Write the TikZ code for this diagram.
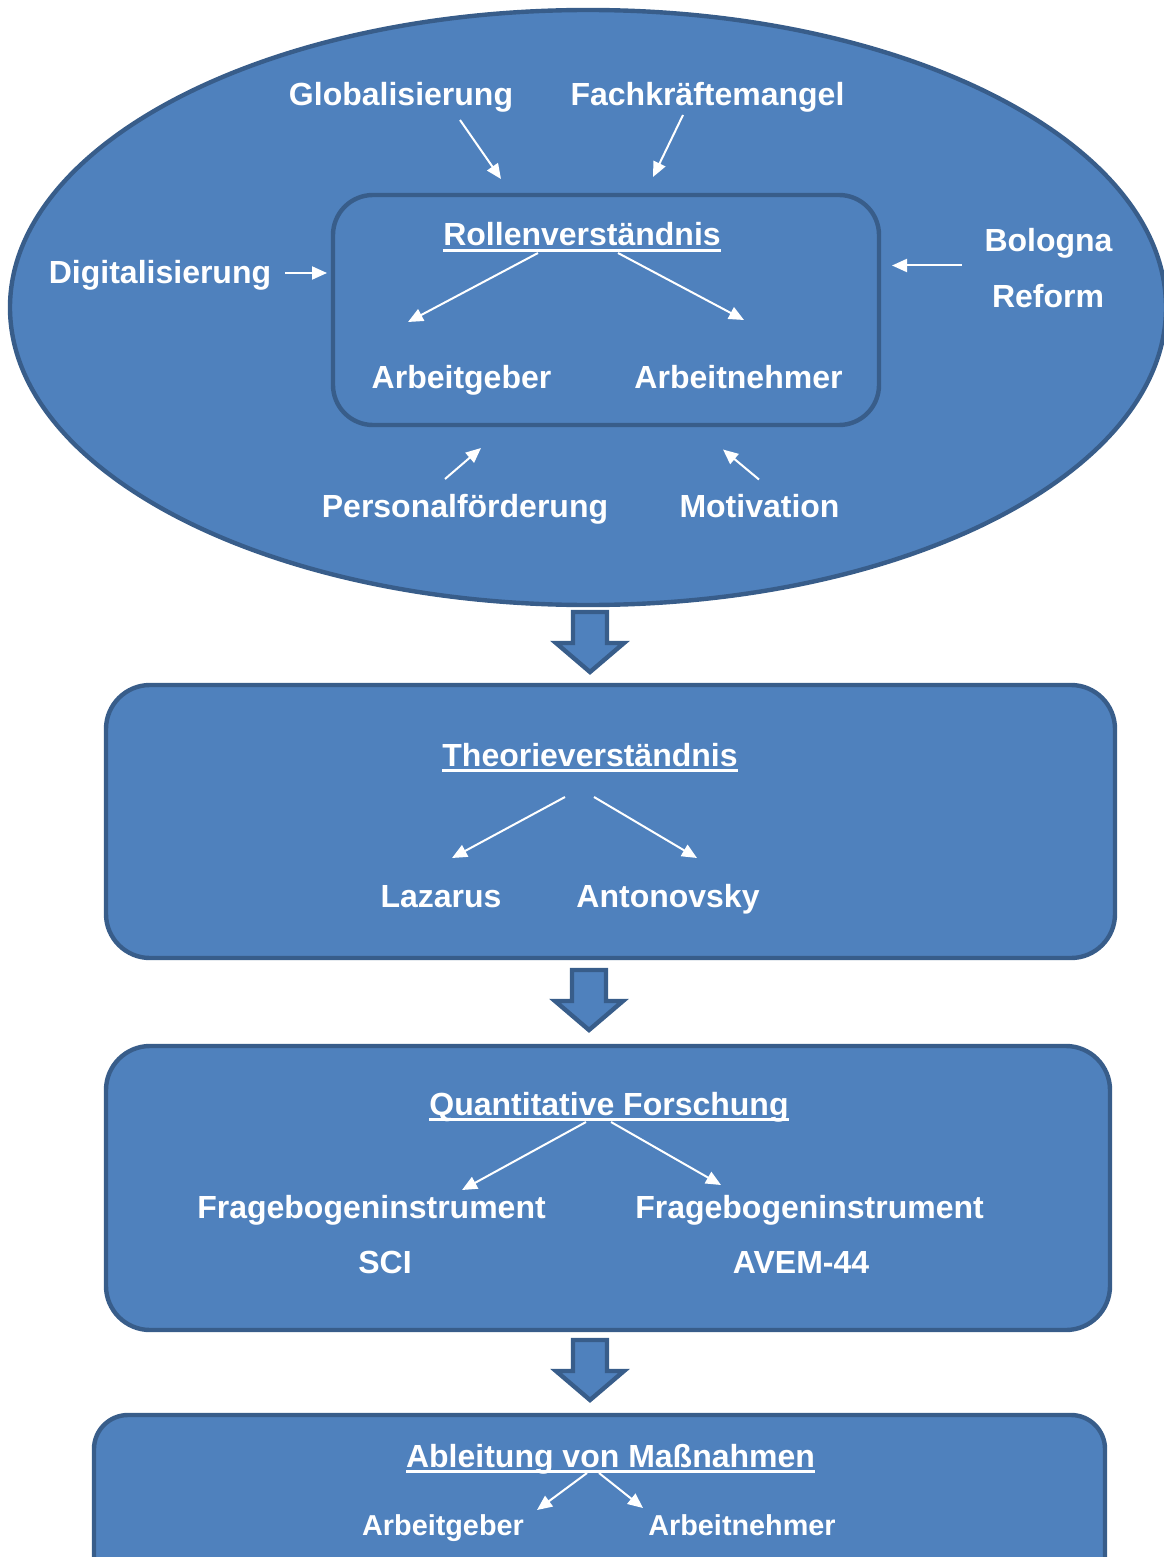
\documentclass[tikz,border=0pt]{standalone}
\usepackage{fontspec}
\setmainfont{Liberation Sans}
\usepackage{tikz}
\usetikzlibrary{arrows.meta,positioning,shapes.geometric}
\definecolor{Fill}{HTML}{4F81BD}
\definecolor{Edge}{HTML}{385D8A}
\newsavebox\ulbox
\newcommand\ulin[1]{\sbox\ulbox{#1}\rlap{\rule[-3pt]{\wd\ulbox}{1.4pt}}\usebox\ulbox}
\tikzset{
  blob/.style={ellipse,draw=Edge,fill=Fill,line width=2.2pt,inner sep=0pt},
  innerbox/.style={rectangle,draw=Edge,fill=Fill,line width=2.2pt,rounded corners=20pt},
  panel/.style={rectangle,draw=Edge,fill=Fill,line width=2.2pt,rounded corners=22pt},
  lbl/.style={text=white,font=\fontsize{16}{19}\selectfont\bfseries,inner sep=0pt,anchor=base},
  itemsmall/.style={lbl,font=\fontsize{14.4}{17}\selectfont\bfseries},
  flow/.style={-{Triangle[length=7.5pt,width=6.5pt]},draw=white,line width=1pt},
  downarrow/.pic={\draw[draw=Edge,fill=Fill,line width=2.2pt,line join=miter]
    (-17,0) -- (17,0) -- (17,31) -- (34,31) -- (0,60) -- (-34,31) -- (-17,31) -- cycle;}
}
\begin{document}
\begin{tikzpicture}[x=0.5pt,y=-0.5pt]
  \useasboundingbox (0,0) rectangle (1163,1557);
  % Umfeld
  \node[blob,minimum width=578pt,minimum height=297.5pt] (umfeld) at (588,307.5) {};
  \node[innerbox,minimum width=273pt,minimum height=115pt] (rolle) at (606,310) {};
  \node[lbl] (glob) at (401,106) {Globalisierung};
  \node[lbl] (fach) at (707.5,106) {Fachkräftemangel};
  \node[lbl] (digi) at (160,284) {Digitalisierung};
  \node[lbl] (bologna) at (1048.5,251) {Bologna};
  \node[lbl] (reform) at (1048,307) {Reform};
  \node[lbl] (rollen) at (582,246) {\ulin{Rollenverständnis}};
  \node[lbl] (ag) at (461.5,388) {Arbeitgeber};
  \node[lbl] (an) at (738.5,388) {Arbeitnehmer};
  \node[lbl] (pers) at (465,517) {Personalförderung};
  \node[lbl] (moti) at (759.5,517) {Motivation};
  \coordinate (glob-a) at (460,120);   \coordinate (glob-b) at (501,179);
  \coordinate (fach-a) at (683,115);   \coordinate (fach-b) at (653,177);
  \coordinate (digi-a) at (285,273);   \coordinate (digi-b) at (327,273);
  \coordinate (bol-a) at (962,265.5);  \coordinate (bol-b) at (892,265.5);
  \coordinate (rol-a) at (538,253);    \coordinate (rol-b) at (408,322);
  \coordinate (rol-c) at (618,253);    \coordinate (rol-d) at (744,320);
  \coordinate (pers-a) at (445,479);   \coordinate (pers-b) at (481,448);
  \coordinate (moti-a) at (759,479.5); \coordinate (moti-b) at (723,449.5);
  \draw[flow] (glob-a) -- (glob-b);
  \draw[flow] (fach-a) -- (fach-b);
  \draw[flow] (digi-a) -- (digi-b);
  \draw[flow] (bol-a) -- (bol-b);
  \draw[flow] (rol-a) -- (rol-b);
  \draw[flow] (rol-c) -- (rol-d);
  \draw[flow] (pers-a) -- (pers-b);
  \draw[flow] (moti-a) -- (moti-b);
  \pic at (590,612) {downarrow};
  % Theorie
  \node[panel,minimum width=504.5pt,minimum height=136.5pt] (theorie) at (610.5,821.5) {};
  \node[lbl] (theo) at (590,766) {\ulin{Theorieverständnis}};
  \node[lbl] (laz) at (441,907) {Lazarus};
  \node[lbl] (anto) at (668,907) {Antonovsky};
  \coordinate (theo-a) at (565,797); \coordinate (theo-b) at (452,858);
  \coordinate (theo-c) at (594,797); \coordinate (theo-d) at (697,858);
  \draw[flow] (theo-a) -- (theo-b);
  \draw[flow] (theo-c) -- (theo-d);
  \pic at (589,970) {downarrow};
  % Forschung
  \node[panel,minimum width=502pt,minimum height=142pt] (forschung) at (608,1188) {};
  \node[lbl] (quant) at (609,1115) {\ulin{Quantitative Forschung}};
  \node[lbl] (frage1) at (371.5,1218) {Fragebogeninstrument};
  \node[lbl] (sci) at (385,1273) {SCI};
  \node[lbl] (frage2) at (809.5,1218) {Fragebogeninstrument};
  \node[lbl] (avem) at (801,1273) {AVEM-44};
  \coordinate (qu-a) at (586,1122); \coordinate (qu-b) at (462,1190);
  \coordinate (qu-c) at (611,1122); \coordinate (qu-d) at (721,1185);
  \draw[flow] (qu-a) -- (qu-b);
  \draw[flow] (qu-c) -- (qu-d);
  \pic at (590,1340) {downarrow};
  % Massnahmen
  \node[panel,rounded corners=17pt,minimum width=505.5pt,minimum height=87.5pt] (massnahmen) at (599.5,1502.5) {};
  \node[lbl] (ableit) at (610.5,1467) {\ulin{Ableitung von Maßnahmen}};
  \node[itemsmall] (ag2) at (443,1535) {Arbeitgeber};
  \node[itemsmall] (an2) at (742,1535) {Arbeitnehmer};
  \coordinate (ab-a) at (587,1473); \coordinate (ab-b) at (537,1510);
  \coordinate (ab-c) at (599,1473); \coordinate (ab-d) at (643,1508);
  \draw[flow] (ab-a) -- (ab-b);
  \draw[flow] (ab-c) -- (ab-d);
\end{tikzpicture}
\end{document}
